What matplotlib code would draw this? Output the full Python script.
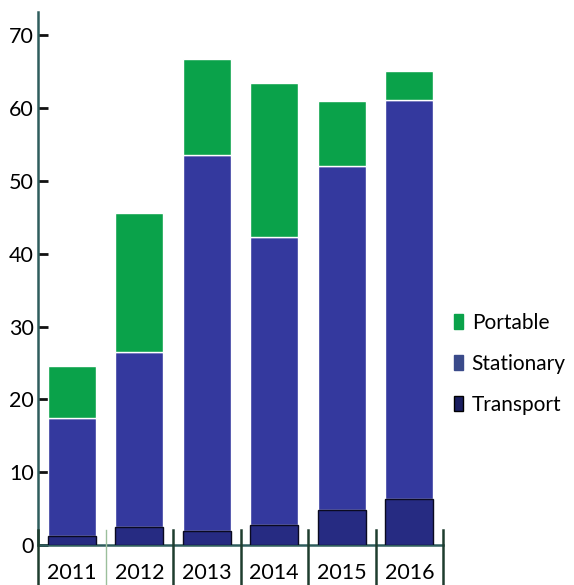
import matplotlib
matplotlib.use("Agg")
import matplotlib.pyplot as plt
from matplotlib.patches import Patch

years = ["2011", "2012", "2013", "2014", "2015", "2016"]
transport = [1.2, 2.5, 1.9, 2.7, 4.8, 6.3]
stationary_top = [17.4, 26.5, 53.5, 42.3, 52.0, 61.1]
total_top = [24.6, 45.6, 66.8, 63.4, 61.0, 65.1]
stationary = [s - t for s, t in zip(stationary_top, transport)]
portable = [tt - s for tt, s in zip(total_top, stationary_top)]
yticks = [0, 10, 20, 30, 40, 50, 60, 70]

c_port = "#0aa24a"
c_stat = "#34399e"
c_trans = "#262b82"
c_axis = "#2f5d5d"

plt.rcParams['font.family'] = ['Lato', 'DejaVu Sans']
fig = plt.figure(figsize=(5.74, 5.85), dpi=100)
ax = fig.add_axes([38/574, 40/585, (443-38)/574, (545-12)/585])

x = list(range(len(years)))
w = 0.71
ax.bar(x, transport, w, color=c_trans, edgecolor="#0a0a20", linewidth=1.0, zorder=3)
ax.bar(x, stationary, w, bottom=transport, color=c_stat, edgecolor="white", linewidth=1.0, zorder=2)
ax.bar(x, portable, w, bottom=stationary_top, color=c_port, edgecolor="white", linewidth=1.0, zorder=2)

ax.set_xlim(-0.5, 5.5)
ax.set_ylim(0, 73.2)
for s in ["top", "right"]:
    ax.spines[s].set_visible(False)
for s in ["left", "bottom"]:
    ax.spines[s].set_color(c_axis)
    ax.spines[s].set_linewidth(1.8)

fs = 15.5
ax.set_yticks(yticks)
ax.set_yticklabels([str(v) for v in yticks], fontsize=fs)
ax.tick_params(axis="y", direction="in", length=7, width=2, color="#111111", pad=3)
ax.set_xticks(x)
ax.set_xticklabels(years, fontsize=fs)
ax.tick_params(axis="x", length=0, pad=13)

# category separators extending below the axis
for i, b in enumerate([k - 0.5 for k in range(len(years) + 1)]):
    col = "#9bbf9b" if i == 1 else "#1e3d2e"
    lw = 1.0 if i == 1 else 1.8
    ax.plot([b, b], [2.0, -5.5], color=col, lw=lw, clip_on=False, zorder=4,
            transform=ax.transData)

handles = [Patch(facecolor=c_port, edgecolor=c_port),
           Patch(facecolor="#3a4a8a", edgecolor="#3a4a8a"),
           Patch(facecolor="#1a1e60", edgecolor="#000000")]
leg = fig.legend(handles, ["Portable", "Stationary", "Transport"],
                 loc="upper left", bbox_to_anchor=(454/574, 1 - 313/585),
                 borderpad=0, borderaxespad=0,
                 frameon=False, fontsize=15, handlelength=0.45, handleheight=0.75,
                 handletextpad=0.4, labelspacing=1.0)

fig.savefig("out.png", dpi=100)
